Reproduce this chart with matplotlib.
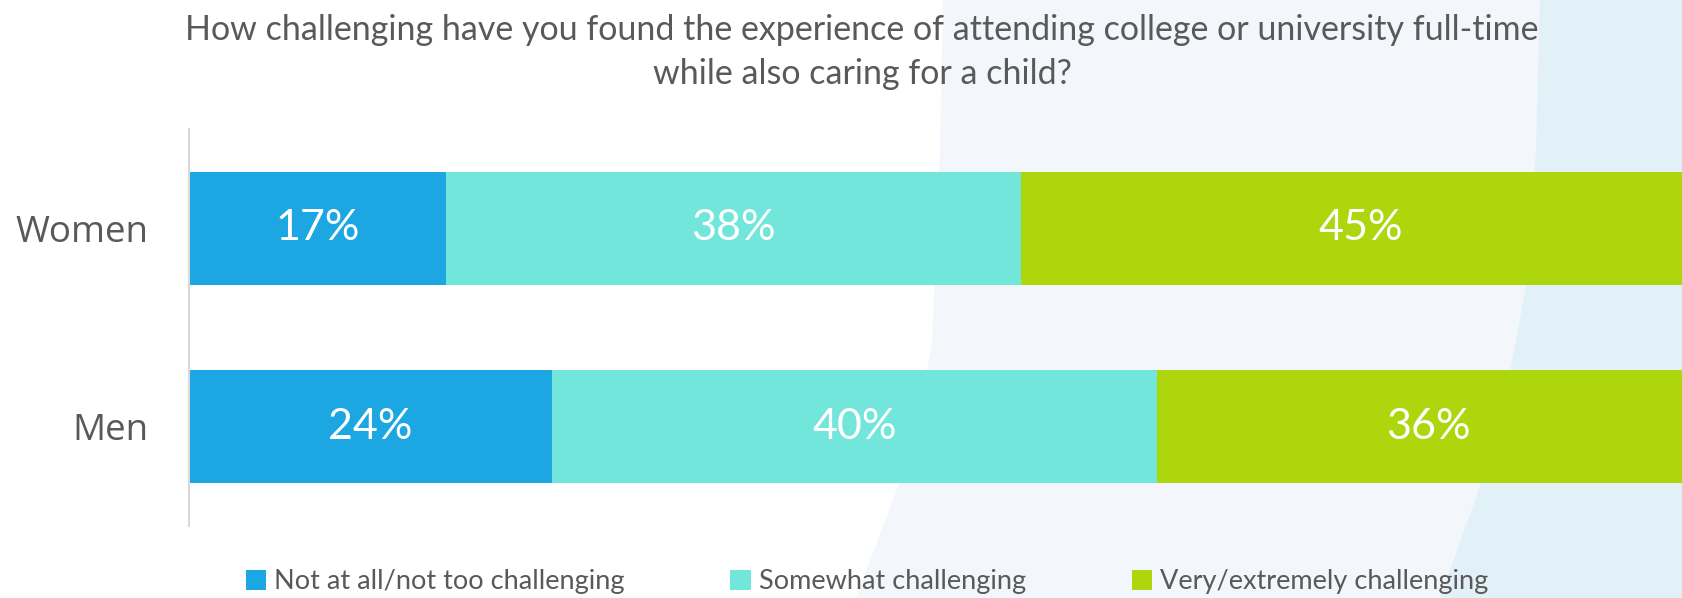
import matplotlib
matplotlib.use("Agg")
import matplotlib.pyplot as plt
from matplotlib.patches import Polygon, Patch
import numpy as np

categories = ["Men", "Women"]
series_names = ["Not at all/not too challenging", "Somewhat challenging", "Very/extremely challenging"]
not_at_all = [24, 17]
somewhat = [40, 38]
very = [36, 45]
colors = ["#1CA7E3", "#72E6DA", "#ADD60D"]
title = "How challenging have you found the experience of attending college or university full-time\nwhile also caring for a child?"

W, H = 1682, 598
fig = plt.figure(figsize=(W / 100, H / 100), dpi=100)
fig.patch.set_facecolor("white")

# background decoration
bg = fig.add_axes([0, 0, 1, 1], zorder=0)
bg.set_xlim(0, W)
bg.set_ylim(H, 0)
bg.axis("off")
left_curve = [(943, 0), (940, 150), (932, 343), (915, 430), (896, 492), (856, 598)]
bg.add_patch(Polygon(left_curve + [(W, 598), (W, 0)], closed=True, facecolor="#F3F7FC", edgecolor="none"))
right_curve = [(1540, 0), (1536, 150), (1526, 286), (1505, 400), (1478, 492), (1440, 598)]
bg.add_patch(Polygon(right_curve + [(W, 598), (W, 0)], closed=True, facecolor="#E2F0F8", edgecolor="none"))

ax = fig.add_axes([189 / W, 1 - 526 / H, 1512 / W, 397 / H], zorder=1)
ax.patch.set_alpha(0)
y = np.arange(len(categories))
left = np.zeros(len(categories))
bar_h = 0.567
for vals, col, name in zip([not_at_all, somewhat, very], colors, series_names):
    vals = np.array(vals, dtype=float)
    ax.barh(y, vals, left=left, height=bar_h, color=col, label=name, edgecolor="none")
    for yi, v, l in zip(y, vals, left):
        ax.text(l + v / 2, yi, f"{int(v)}%", ha="center", va="center", color="white",
                fontsize=31, family="Lato")
    left += vals

ax.set_xlim(0, 100)
ax.set_ylim(-0.5, 1.5)
ax.set_yticks(y)
ax.set_yticklabels(categories, fontsize=26.5, family="Open Sans", color="#595959")
ax.tick_params(axis="y", length=0, pad=29)
ax.set_xticks([])
for s in ["top", "right", "bottom"]:
    ax.spines[s].set_visible(False)
ax.spines["left"].set_color("#D9D9D9")
ax.spines["left"].set_linewidth(1.5)

fig.text(862 / W, 1 - 52 / H, title, ha="center", va="center", fontsize=24.5, family="Lato",
         color="#595959", linespacing=1.5)

handles = [Patch(facecolor=c, edgecolor="none") for c in colors]
fig.legend(handles, series_names, loc="center", bbox_to_anchor=(867 / W, 1 - 582 / H), ncol=3,
           frameon=False, prop={"family": "Lato", "size": 19.5}, labelcolor="#595959",
           handlelength=0.75, handleheight=0.75, handletextpad=0.3, columnspacing=3.9)

fig.savefig("out.png", dpi=100)
